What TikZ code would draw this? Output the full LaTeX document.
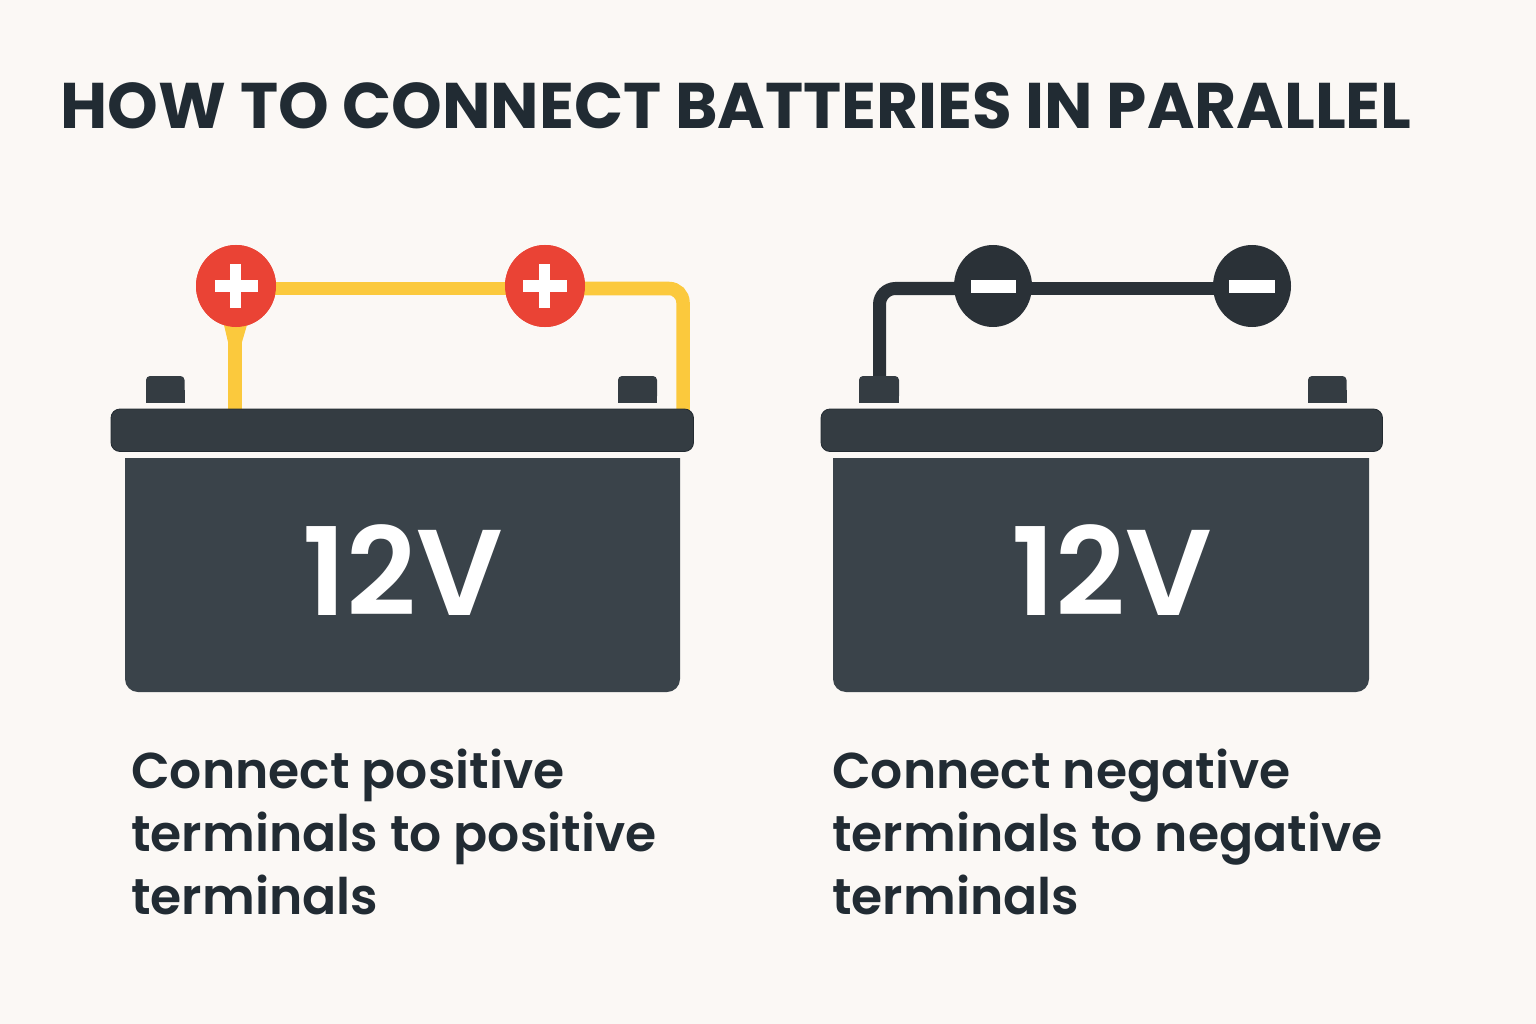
\documentclass[tikz,border=0pt]{standalone}
\usepackage{fontspec}
\usetikzlibrary{shapes.geometric}
\setmainfont{Poppins}[BoldFont={Poppins SemiBold}]
\newfontfamily\heavyfont{Poppins Bold}
\definecolor{bgc}{HTML}{FBF8F5}
\definecolor{ink}{HTML}{212B33}
\definecolor{slatec}{HTML}{3A434A}
\definecolor{lidc}{HTML}{343C42}
\definecolor{edgec}{HTML}{232B31}
\definecolor{redc}{HTML}{EA4335}
\definecolor{yelc}{HTML}{FBC93D}
\definecolor{darkc}{HTML}{2A3137}
\tikzset{
  x=1pt,y=-1pt,
  bodyfill/.style={fill=slatec},
  lidbar/.style={fill=lidc,draw=edgec,line width=0.8pt,rounded corners=9pt},
  volts/.style={font=\fontsize{122}{122}\selectfont\bfseries,text=white,inner sep=0,anchor=center},
  capt/.style={font=\bfseries\fontsize{50.4}{63}\selectfont,text=ink,inner sep=0,anchor=north west,align=left},
  ttl/.style={font=\heavyfont\fontsize{64.5}{64.5}\selectfont,text=ink,inner sep=0,anchor=west},
  termp/.style={ellipse,fill=redc,minimum width=80pt,minimum height=82pt,inner sep=0},
  termn/.style={ellipse,fill=darkc,minimum width=78pt,minimum height=82pt,inner sep=0},
  ywire/.style={draw=yelc,line width=13.5pt},
  dwire/.style={draw=darkc,line width=13pt},
  signbar/.style={fill=white},
}
\newcommand{\postat}[2]{\fill[lidc,rounded corners=4pt] (#1,400) rectangle (#2,376);\fill[lidc] (#1,390) rectangle (#2,403);}
\begin{document}
\begin{tikzpicture}
\useasboundingbox (0,0) rectangle (1536,1024);
\fill[bgc] (0,0) rectangle (1536,1024);
\node[ttl] (title) at (60.5,106) {HOW TO CONNECT BATTERIES IN PARALLEL};
% left battery
\node[termp] (p1) at (236,286) {};
\node[termp] (p2) at (545,286) {};
\coordinate (ya) at (235,412);
\coordinate (yb) at (683,412);
\coordinate (yc) at (683,288.5);
\draw[ywire] (ya) -- (235,330);
\fill[yelc] (224,325) -- (247,325) -- (242,342) -- (228,342) -- cycle;
\draw[ywire] (p1.center |- yc) -- (p2.center |- yc);
\draw[ywire,rounded corners=14pt] (p2.center |- yc) -- (yc) -- (yb);
\node[termp] at (p1) {};
\node[termp] at (p2) {};
\fill[signbar] (215,280) rectangle (258,292);
\fill[signbar] (230,264) rectangle (241,308);
\fill[signbar] (523,280) rectangle (566.5,292);
\fill[signbar] (539,264) rectangle (550,308);
\postat{146}{184.5}
\postat{618}{657}
\path[bodyfill] (125,458) -- (680,458) [rounded corners=13pt] -- (680,692) -- (125,692) [sharp corners] -- cycle;
\path[lidbar] (111,409) rectangle (693.5,451.5);
\node[volts] (v1) at (402.5,570) {12V};
\node[capt] (c1) at (131,749) {Connect positive\\terminals to positive\\terminals};
% right battery
\coordinate (da) at (879.5,378);
\coordinate (dc) at (879.5,288.5);
\node[termn] (n1) at (993,286) {};
\node[termn] (n2) at (1252,286) {};
\draw[dwire,rounded corners=16pt] (da) -- (dc) -- (n1.center |- dc);
\draw[dwire] (n1.center |- dc) -- (n2.center |- dc);
\postat{859}{899}
\postat{1308}{1346.5}
\path[bodyfill] (833,458) -- (1369,458) [rounded corners=13pt] -- (1369,692) -- (833,692) [sharp corners] -- cycle;
\path[lidbar] (821,409) rectangle (1382.5,451.5);
\fill[signbar] (970.5,280) rectangle (1016,293);
\fill[signbar] (1229,280) rectangle (1275,293);
\node[volts] (v2) at (1112,570) {12V};
\node[capt] (c2) at (832,749) {Connect negative\\terminals to negative\\terminals};
\end{tikzpicture}
\end{document}
